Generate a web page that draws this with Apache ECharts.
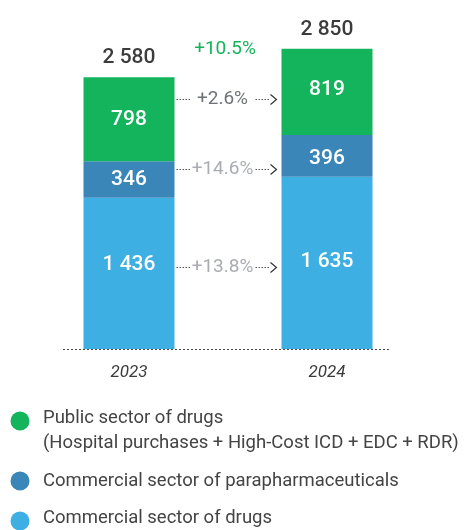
<!DOCTYPE html>
<html>
<head>
<meta charset="utf-8">
<script src="https://cdn.jsdelivr.net/npm/echarts@6/dist/echarts.min.js"></script>
<style>
  html, body { margin: 0; padding: 0; background: #ffffff; }
  #chart { width: 465px; height: 530px; }
</style>
</head>
<body>
<div id="chart"></div>
<script>
// ---- data ----
const years = ['2023', '2024'];
const drugsCommercial = [1436, 1635];
const parapharmaCommercial = [346, 396];
const drugsPublic = [798, 819];
const totals = [2580, 2850];
// year-on-year growth per segment, bottom to top
const segmentGrowth = ['+13.8%', '+14.6%', '+2.6%'];
const totalGrowth = '+10.5%';
const seriesNames = [
  'Commercial sector of drugs',
  'Commercial sector of parapharmaceuticals',
  'Public sector of drugs\n(Hospital purchases + High-Cost ICD + EDC + RDR)'
];

// ---- styling ----
const FONT = 'Roboto, "Noto Sans", sans-serif';
const colors = ['#3eafe3', '#3a86b8', '#14b45c'];
const growthColors = ['#a9acb1', '#a9acb1', '#6e7277'];
const labelNudge = [[-9, -1], [0, 3], [0, -2]];    // vertical tweak of in-bar labels
const arrowNudge = [-1, 1, -7];                     // vertical tweak of growth arrows
const BAR_W = 91;

const segments = [drugsCommercial, parapharmaCommercial, drugsPublic];
const fmt = v => String(v).replace(/\B(?=(\d{3})+(?!\d))/g, ' ');

const chart = echarts.init(document.getElementById('chart'), null, { renderer: 'canvas' });

const series = segments.map((vals, i) => ({
  type: 'bar',
  name: seriesNames[i],
  stack: 'total',
  barWidth: BAR_W,
  itemStyle: { color: colors[i] },
  label: {
    show: true,
    position: 'inside',
    color: '#ffffff',
    fontSize: 21,
    fontWeight: 500,
    fontFamily: FONT,
    formatter: p => fmt(p.value)
  },
  data: vals.map((v, j) => ({ value: v, label: { offset: [0, labelNudge[i][j]] } }))
}));

// zero-height cap carrying the stack total
series.push({
  type: 'bar',
  stack: 'total',
  barWidth: BAR_W,
  silent: true,
  itemStyle: { color: 'transparent' },
  label: {
    show: true,
    position: 'top',
    distance: 9,
    color: '#3c3c3c',
    fontSize: 21,
    fontWeight: 500,
    fontFamily: FONT,
    formatter: p => fmt(totals[p.dataIndex])
  },
  data: totals.map(() => 0)
});

chart.setOption({
  animation: false,
  backgroundColor: '#ffffff',
  grid: { left: 30, right: 39, top: 33, bottom: 181 },
  xAxis: {
    type: 'category',
    data: years,
    axisLine: { show: false },
    axisTick: { show: false },
    axisLabel: {
      color: '#3a3a3a',
      fontSize: 17,
      fontStyle: 'italic',
      fontFamily: FONT,
      margin: 15
    }
  },
  yAxis: { type: 'value', min: 0, max: 3000, show: false, splitLine: { show: false } },
  series: series
});

// ---- overlay: baseline, growth arrows, legend ----
const px = (i, v) => chart.convertToPixel({ gridIndex: 0 }, [i, v]);
const [c0, base] = px(0, 0);
const c1 = px(1, 0)[0];
const xL = c0 + BAR_W / 2;
const xR = c1 - BAR_W / 2;

const g = [];
g.push({
  type: 'line',
  shape: { x1: c0 - 66, y1: base + 0.5, x2: c1 + 64, y2: base + 0.5 },
  style: { stroke: '#444', lineWidth: 1, lineDash: [2, 2] }
});

let cum0 = 0, cum1 = 0;
segments.forEach((vals, i) => {
  const m0 = px(0, cum0 + vals[0] / 2)[1];
  const m1 = px(1, cum1 + vals[1] / 2)[1];
  cum0 += vals[0];
  cum1 += vals[1];
  const y = Math.round((m0 + m1) / 2 + arrowNudge[i]) + 0.5;
  g.push({ type: 'line', shape: { x1: xL + 2, y1: y, x2: xL + 16, y2: y },
           style: { stroke: '#555', lineWidth: 1, lineDash: [1.5, 1.5] } });
  g.push({ type: 'line', shape: { x1: xR - 26, y1: y, x2: xR - 11, y2: y },
           style: { stroke: '#555', lineWidth: 1, lineDash: [1.5, 1.5] } });
  g.push({ type: 'polyline', shape: { points: [[xR - 11, y - 5], [xR - 5, y], [xR - 11, y + 5]] },
           style: { stroke: '#333', lineWidth: 1.2, fill: null } });
  g.push({ type: 'text', x: xL + 48, y: y,
           style: { text: segmentGrowth[i], fill: growthColors[i], font: '19px ' + FONT,
                    align: 'center', verticalAlign: 'middle' } });
});

const topR = px(1, totals[1])[1];
g.push({ type: 'text', x: (xL + xR) / 2 - 3, y: topR,
         style: { text: totalGrowth, fill: '#16b35a', font: '19px ' + FONT,
                  align: 'center', verticalAlign: 'middle' } });

// legend, top item is the upper stack segment
const legendRows = [
  { idx: 2, cy: 421, ty: 405.5 },
  { idx: 1, cy: 481, ty: 468.5 },
  { idx: 0, cy: 521, ty: 506 }
];
legendRows.forEach(r => {
  g.push({ type: 'circle', shape: { cx: 20, cy: r.cy, r: 9.5 }, style: { fill: colors[r.idx] } });
  g.push({ type: 'text', x: 43, y: r.ty,
           style: { text: seriesNames[r.idx], fill: '#444', font: '18.5px ' + FONT,
                    lineHeight: 25, align: 'left', verticalAlign: 'top' } });
});

chart.setOption({ graphic: { elements: g } });
</script>
</body>
</html>
